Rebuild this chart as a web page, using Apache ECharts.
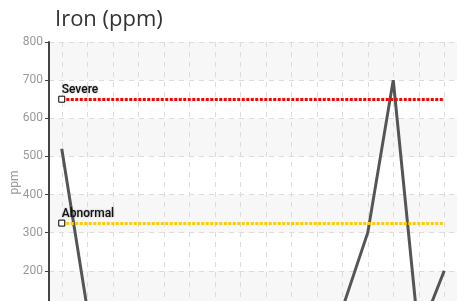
<!DOCTYPE html>
<html>
<head>
<meta charset="utf-8">
<script src="https://cdn.jsdelivr.net/npm/echarts@6/dist/echarts.min.js"></script>
<style>
html,body{margin:0;padding:0;overflow:hidden;background:#fff;}
#chart{width:457px;height:420px;}
</style>
</head>
<body>
<div id="chart"></div>
<script>
var titleText = 'Iron (ppm)';
var yAxisName = 'ppm';
var categories = ['1','2','3','4','5','6','7','8','9','10','11','12','13','14','15','16'];
var ironValues = [520, 100, 60, 45, 50, 40, 55, 35, 45, 50, 60, 100, 300, 700, 30, 200];
var limitNames = ['Severe', 'Abnormal'];
var limitValues = [650, 325];
var limitColors = ['#ff0000', '#ffcc00'];
var yTicks = [0, 100, 200, 300, 400, 500, 600, 700, 800];

var chart = echarts.init(document.getElementById('chart'));
var lastIdx = categories.length - 1;
var markLines = limitValues.map(function (v, i) {
  return [
    {name: limitNames[i], coord: [0, v], lineStyle: {color: limitColors[i]}},
    {coord: [lastIdx, v]}
  ];
});
var markPoints = limitValues.map(function (v) {
  return {coord: [0, v]};
});
chart.setOption({
  animation: false,
  title: {
    text: titleText, left: 50, top: 4,
    textStyle: {fontFamily: 'Open Sans', fontSize: 22, fontWeight: 'normal', color: '#333'}
  },
  grid: {left: 49, right: 0, top: 42, bottom: 73, containLabel: false, outerBoundsMode: 'none'},
  xAxis: {
    type: 'category', data: categories, boundaryGap: true,
    axisTick: {alignWithLabel: true},
    splitLine: {show: true, alignWithLabel: true, lineStyle: {color: '#dcdcdc', type: [5, 5]}},
    axisLine: {lineStyle: {color: '#444'}}
  },
  yAxis: {
    type: 'value', min: yTicks[0], max: yTicks[yTicks.length - 1], interval: 100,
    name: yAxisName, nameLocation: 'middle', nameGap: 28, nameMoveOverlap: false,
    nameTextStyle: {color: '#999', fontSize: 12, fontFamily: 'Roboto', padding: [0, 0, 0, 24]},
    axisLine: {show: true, lineStyle: {color: '#444', width: 2}},
    axisTick: {show: true, length: 4, lineStyle: {color: '#444', width: 1}},
    axisLabel: {color: '#999', fontSize: 12, fontFamily: 'Roboto', margin: 6},
    splitLine: {show: true, lineStyle: {color: '#dcdcdc', type: [5, 5]}},
    splitArea: {show: true, areaStyle: {color: ['#ffffff', '#f7f7f7']}}
  },
  series: [{
    type: 'line', data: ironValues, showSymbol: false, symbol: 'none',
    lineStyle: {color: '#555', width: 3},
    markLine: {
      silent: true, symbol: ['none', 'none'],
      lineStyle: {width: 3, type: [3, 1.5]},
      label: {show: true, position: 'insideStartTop', formatter: '{b}', color: '#111',
        fontFamily: 'Roboto', fontSize: 12, fontWeight: 500, distance: [0, 3],
        textShadowColor: 'rgba(0,0,0,0.35)', textShadowBlur: 2},
      data: markLines
    },
    markPoint: {
      silent: true, symbol: 'rect', symbolSize: 6,
      itemStyle: {color: '#fff', borderColor: '#000', borderWidth: 1},
      label: {show: false},
      data: markPoints
    }
  }]
});
</script>
</body>
</html>
